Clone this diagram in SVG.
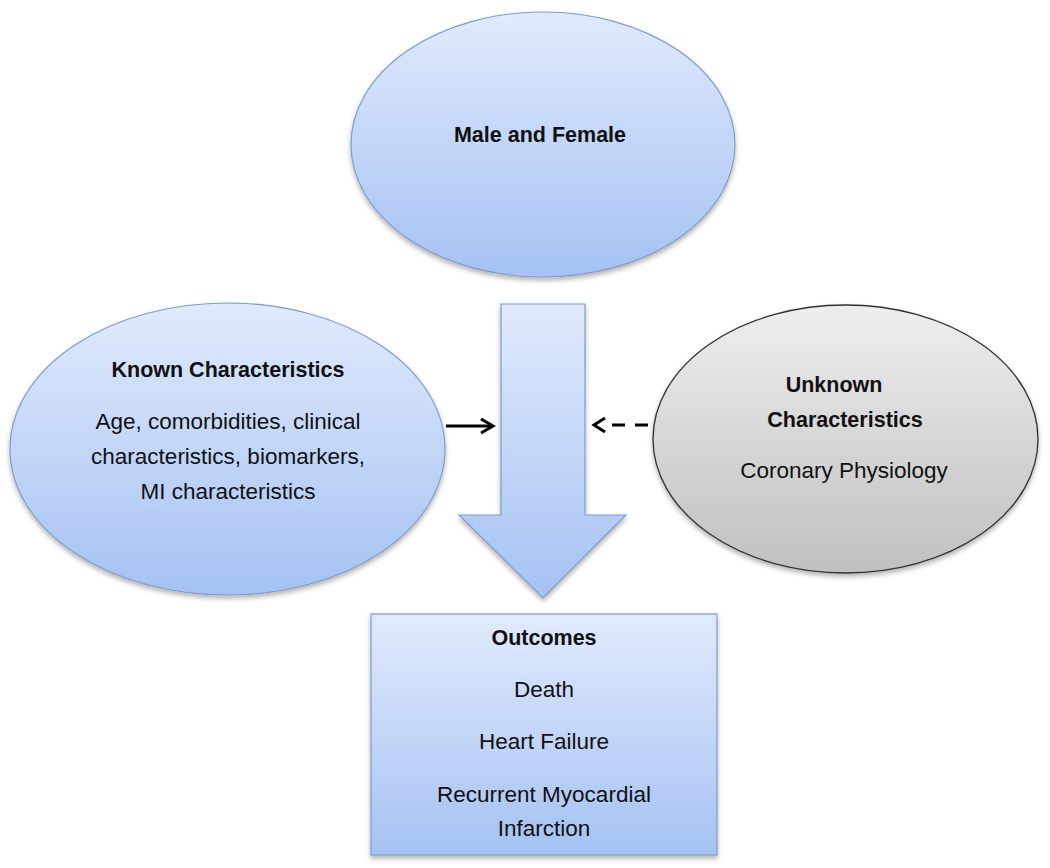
<svg xmlns="http://www.w3.org/2000/svg" width="1050" height="868" viewBox="0 0 1050 868">
  <style>
    .blue { fill: url(#gBlue); stroke: #7e9ccb; stroke-width: 1.2; filter: url(#shadow); }
    .gray { fill: url(#gGray); stroke: #333333; stroke-width: 1.3; filter: url(#shadow); }
    .t { font-family: "Liberation Sans", Arial, sans-serif; font-size: 22.5px; fill: #111111; text-anchor: middle; }
    .b { font-weight: bold; font-size: 21.5px; }
    .conn { stroke: #000000; stroke-width: 3; fill: none; }
    .dash { stroke-dasharray: 13 10; }
  </style>
  <defs>
    <linearGradient id="gBlue" x1="0" y1="0" x2="0" y2="1">
      <stop offset="0" stop-color="#e0eafc"/>
      <stop offset="1" stop-color="#a5c2f3"/>
    </linearGradient>
    <linearGradient id="gGray" x1="0" y1="0" x2="0" y2="1">
      <stop offset="0" stop-color="#eeeeee"/>
      <stop offset="1" stop-color="#c0c0c0"/>
    </linearGradient>
    <filter id="shadow" x="-10%" y="-10%" width="120%" height="125%">
      <feDropShadow dx="0" dy="3" stdDeviation="2.5" flood-color="#000000" flood-opacity="0.3"/>
    </filter>
    <marker id="chev" markerUnits="userSpaceOnUse" markerWidth="20" markerHeight="20" refX="13" refY="8" orient="auto">
      <path d="M1,1 L13,8 L1,15" fill="none" stroke="#000000" stroke-width="3" stroke-linejoin="miter"/>
    </marker>
  </defs>

  <rect width="1050" height="868" fill="#ffffff"/>

  <g id="node-male-female">
    <ellipse class="blue" cx="543" cy="144.5" rx="192" ry="132.5"/>
    <text class="t b" x="540" y="142">Male and Female</text>
  </g>

  <g id="node-known">
    <ellipse class="blue" cx="227.5" cy="449" rx="217.5" ry="146"/>
    <text class="t b" x="228" y="377">Known Characteristics</text>
    <text class="t" x="228" y="429">Age, comorbidities, clinical</text>
    <text class="t" x="228" y="464">characteristics, biomarkers,</text>
    <text class="t" x="228" y="499">MI characteristics</text>
  </g>

  <g id="node-unknown">
    <ellipse class="gray" cx="845.5" cy="439" rx="192.5" ry="134"/>
    <text class="t b" x="834" y="392">Unknown</text>
    <text class="t b" x="845" y="427">Characteristics</text>
    <text class="t" x="844" y="478">Coronary Physiology</text>
  </g>

  <g id="node-flow-arrow">
    <path class="blue" d="M501,304 H585 V515 H626 L543,598 L459,515 H501 Z"/>
  </g>

  <g id="node-outcomes">
    <rect class="blue" x="371" y="614" width="346" height="241"/>
    <text class="t b" x="544" y="645">Outcomes</text>
    <text class="t" x="544" y="697">Death</text>
    <text class="t" x="544" y="749">Heart Failure</text>
    <text class="t" x="544" y="802">Recurrent Myocardial</text>
    <text class="t" x="544" y="836">Infarction</text>
  </g>

  <g id="connectors">
    <path class="conn" d="M446,426 H493" marker-end="url(#chev)"/>
    <path class="conn dash" d="M648,425 H612"/>
    <path class="conn" d="M605,418 L594,425 L605,432"/>
  </g>
</svg>
